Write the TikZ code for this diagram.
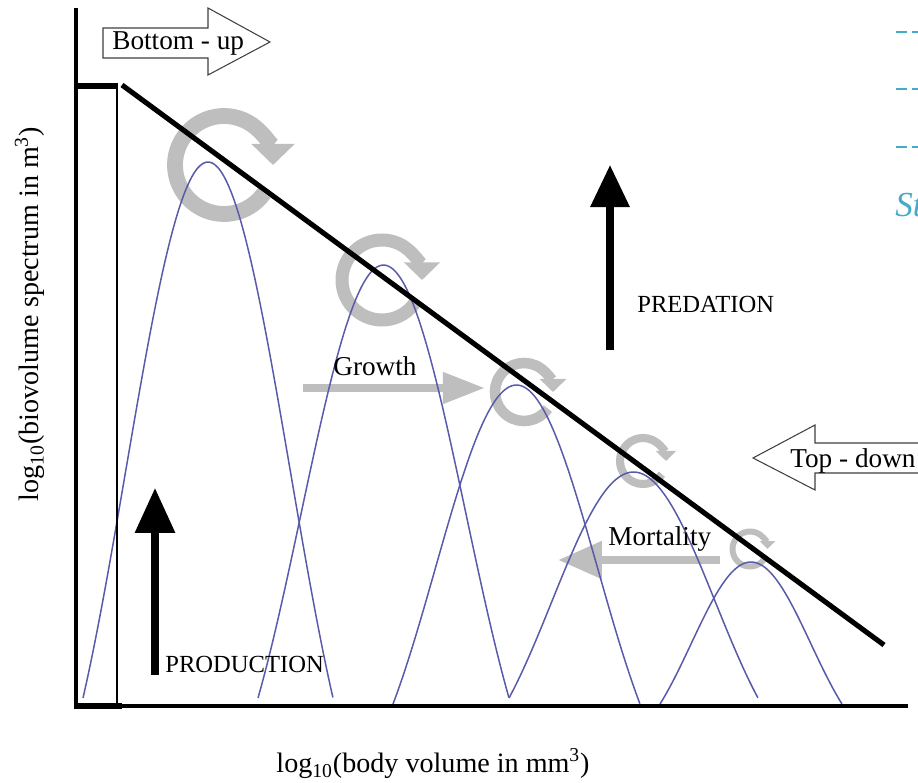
\documentclass[tikz,border=0pt]{standalone}
\usepackage{fontspec}
\setmainfont{Liberation Serif}
\usetikzlibrary{positioning,arrows.meta}

\definecolor{curveblue}{RGB}{88,90,170}
\definecolor{cyclegray}{RGB}{190,190,190}
\definecolor{slidecyan}{RGB}{70,170,200}

\begin{document}
\begin{tikzpicture}[x=0.02cm,y=-0.02cm,
  axis/.style={line width=2.3pt},
  spectrum/.style={curveblue,line width=0.85pt,samples=90,smooth},
  cyc/.style={cyclegray},
  flow/.style={cyclegray,line width=4.6pt},
  force/.style={line width=4pt},
  lbl/.style={inner sep=0pt,anchor=base west,font=\fontsize{15.5}{18}\selectfont},
  caplbl/.style={inner sep=0pt,anchor=base west,font=\fontsize{14}{16}\selectfont},
  axlbl/.style={inner sep=0pt,font=\fontsize{16}{19}\selectfont},
  hollow/.style={draw=black!75,fill=white,line width=0.6pt,line join=miter}]
  \useasboundingbox (0,0) rectangle (918,783);
  \fill[white] (0,0) rectangle (918,783);
  \clip (0,0) rectangle (918,783);

  % cycling arrows on the size classes
  \draw[cyc,line width=9pt,-{Triangle[width=24pt,length=12pt]}] (224,165) ++(35:49) arc[start angle=35,end angle=360,radius=49];
  \draw[cyc,line width=7.4pt,-{Triangle[width=20pt,length=10pt]}] (382,280) ++(35:40) arc[start angle=35,end angle=360,radius=40];
  \draw[cyc,line width=6pt,-{Triangle[width=15pt,length=7.5pt]}] (524,392) ++(35:29) arc[start angle=35,end angle=360,radius=29];
  \draw[cyc,line width=4.6pt,-{Triangle[width=11.4pt,length=5.8pt]}] (643,461) ++(35:23) arc[start angle=35,end angle=360,radius=23];
  \draw[cyc,line width=3.4pt,-{Triangle[width=8.6pt,length=4.5pt]}] (750,549) ++(35:17.5) arc[start angle=35,end angle=360,radius=17.5];

  % growth and mortality
  \coordinate (grow-s) at (303,388);
  \coordinate (grow-e) at (485,388);
  \draw[flow,-{Triangle[width=17pt,length=24pt]}] (grow-s) -- (grow-e);
  \coordinate (mort-s) at (720,560);
  \coordinate (mort-e) at (558,560);
  \draw[flow,-{Triangle[width=20.5pt,length=25pt]}] (mort-s) -- (mort-e);

  % size spectrum bumps
  \draw[spectrum] plot[domain=0:1] ({83+250*\x},{698-536*(0.65*sin(180*\x)+0.35*sin(180*\x)^2)});
  \draw[spectrum] plot[domain=0:1] ({258+251*\x},{698-433*(0.65*sin(180*\x)+0.35*sin(180*\x)^2)});
  \draw[spectrum] plot[domain=0:1] ({393+247*\x},{704-319*(0.65*sin(180*\x)+0.35*sin(180*\x)^2)});
  \draw[spectrum] plot[domain=0:1] ({509+249*\x},{698-226*(0.65*sin(180*\x)+0.35*sin(180*\x)^2)});
  \draw[spectrum] plot[domain=0:1] ({660+182*\x},{704-142*(0.65*sin(180*\x)+0.35*sin(180*\x)^2)});

  % axes and first class
  \coordinate (ytop) at (76,8);
  \coordinate (origin) at (76,706);
  \coordinate (xend) at (908,706);
  \draw[axis] (ytop) -- (origin) -- (xend);
  \draw[line width=1.7pt] (76,86) rectangle (117,706);
  \draw[line width=3.4pt] (74,86) -- (118,86);
  \draw[line width=3.4pt] (74,706) -- (122,706);
  \coordinate (slope-s) at (122,85);
  \coordinate (slope-e) at (884,645);
  \draw[line width=2.9pt] (slope-s) -- (slope-e);

  % production and predation
  \coordinate (prod-s) at (155,675);
  \coordinate (prod-e) at (155,488);
  \draw[force,-{Triangle[width=22pt,length=25.5pt]}] (prod-s) -- (prod-e);
  \coordinate (pred-s) at (610,350);
  \coordinate (pred-e) at (610,165);
  \draw[force,-{Triangle[width=21.6pt,length=24pt]}] (pred-s) -- (pred-e);

  % control arrows
  \draw[hollow] (103,28) -- (208,28) -- (208,8) -- (270,42) -- (208,75) -- (208,58) -- (103,58) -- cycle;
  \draw[hollow] (935,443) -- (815,443) -- (815,425) -- (753,458) -- (815,490) -- (815,473) -- (935,473);

  % labels
  \node[lbl] (bulbl) at (112,50) {Bottom - up};
  \node[lbl] (tdlbl) at (790,467) {Top - down};
  \node[lbl] (growlbl) at (333,375) {Growth};
  \node[lbl] (mortlbl) at (608,545) {Mortality};
  \node[caplbl] (prodlbl) at (165,672) {PRODUCTION};
  \node[caplbl] (predlbl) at (637,313) {PREDATION};
  \node[axlbl,rotate=90] (ylbl) at (30,314) {log\textsubscript{10}(biovolume spectrum in m\textsuperscript{3})};
  \node[axlbl] (xlbl) at (433,764) {log\textsubscript{10}(body volume in mm\textsuperscript{3})};

  % cut-off slide content at the right edge
  \draw[slidecyan,line width=1.7pt,dash pattern=on 6.3pt off 2.8pt] (896,32) -- (940,32);
  \draw[slidecyan,line width=1.7pt,dash pattern=on 6.3pt off 2.8pt] (896,89) -- (940,89);
  \draw[slidecyan,line width=1.7pt,dash pattern=on 6.3pt off 2.8pt] (896,147) -- (940,147);
  \node[inner sep=0pt,anchor=base west,text=slidecyan,font=\fontsize{20}{24}\selectfont\itshape] (stub) at (895,217) {St};
\end{tikzpicture}
\end{document}
